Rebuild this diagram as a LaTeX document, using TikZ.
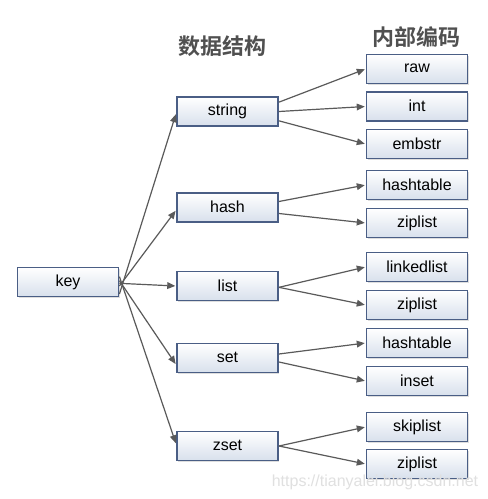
\documentclass[tikz,border=0pt]{standalone}
\usepackage{fontspec}
\setmainfont{Liberation Sans}
\newfontfamily\cjk{Noto Sans CJK SC}[BoldFont={Noto Sans CJK SC Bold}]
\usetikzlibrary{arrows.meta,shadows}
\definecolor{boxborder}{HTML}{4A5E85}
\definecolor{boxbot}{HTML}{D8E0EC}
\definecolor{arrowgray}{HTML}{5A5A5A}
\definecolor{headgray}{HTML}{505050}
\tikzset{
  box/.style={draw=boxborder, line width=1.4pt, top color=white, bottom color=boxbot,
    minimum width=101*0.75pt, minimum height=29*0.75pt, inner sep=0pt,
    font=\fontsize{12pt}{14pt}\selectfont,
    drop shadow={shadow xshift=1pt, shadow yshift=-1pt, fill=black!25, opacity=0.5}},
  link/.style={draw=arrowgray, line width=0.9pt, -{Triangle[length=6pt,width=5pt]}, shorten >=0.6pt},
  head/.style={text=headgray, font=\cjk\bfseries\fontsize{16.5pt}{18pt}\selectfont},
}
\begin{document}
\begin{tikzpicture}[x=0.75pt,y=-0.75pt]
\useasboundingbox (0,0) rectangle (487,499);
\fill[white] (0,0) rectangle (487,499);
% headings
\node[head] (h1) at (222,46) {数据结构};
\node[head] (h2) at (416,37) {内部编码};
% key
\node[box] (key) at (68,282) {\raisebox{1pt}{key}};
% structures
\node[box] (string) at (227.5,111.5) {\raisebox{1pt}{string}};
\node[box] (hash) at (227.5,207.5) {\raisebox{1pt}{hash}};
\node[box] (list) at (227.5,286) {\raisebox{1pt}{list}};
\node[box] (set) at (227.5,358) {\raisebox{1pt}{set}};
\node[box] (zset) at (227.5,446) {\raisebox{1pt}{zset}};
% encodings
\node[box] (raw) at (417,69) {\raisebox{1pt}{raw}};
\node[box] (int) at (417,106.5) {\raisebox{1pt}{int}};
\node[box] (embstr) at (417,144) {\raisebox{1pt}{embstr}};
\node[box] (ht1) at (417,185) {\raisebox{1pt}{hashtable}};
\node[box] (zl1) at (417,223) {\raisebox{1pt}{ziplist}};
\node[box] (ll) at (417,267) {\raisebox{1pt}{linkedlist}};
\node[box] (zl2) at (417,305) {\raisebox{1pt}{ziplist}};
\node[box] (ht2) at (417,343) {\raisebox{1pt}{hashtable}};
\node[box] (inset) at (417,381) {\raisebox{1pt}{inset}};
\node[box] (skip) at (417,427) {\raisebox{1pt}{skiplist}};
\node[box] (zl3) at (417,464) {\raisebox{1pt}{ziplist}};
% key -> structures
\draw[link] ([yshift=-9pt]key.east) -- ([yshift=-1.5pt]string.west);
\draw[link] ([yshift=-3pt]key.east) -- ([yshift=-2pt]hash.west);
\draw[link] ([yshift=-1pt]key.east) -- (list.west);
\draw[link] ([yshift=1pt]key.east) -- ([yshift=-5pt]set.west);
\draw[link] ([yshift=4pt]key.east) -- ([yshift=1.5pt]zset.west);
% structures -> encodings
\draw[link] ([yshift=7pt]string.east) -- (raw.west);
\draw[link] ([yshift=0pt]string.east) -- (int.west);
\draw[link] ([yshift=-7pt]string.east) -- (embstr.west);
\draw[link] ([yshift=4.5pt]hash.east) -- (ht1.west);
\draw[link] ([yshift=-4.5pt]hash.east) -- (zl1.west);
\draw[link] ([yshift=-1pt]list.east) -- (ll.west);
\draw[link] ([yshift=-1pt]list.east) -- (zl2.west);
\draw[link] ([yshift=3pt]set.east) -- (ht2.west);
\draw[link] ([yshift=-3pt]set.east) -- (inset.west);
\draw[link] ([yshift=0pt]zset.east) -- (skip.west);
\draw[link] ([yshift=0pt]zset.east) -- (zl3.west);
% watermark
\node[text=black!12, font=\fontsize{12pt}{14pt}\selectfont] (wm) at (375,482) {https://tianyalei.blog.csdn.net};
\end{tikzpicture}
\end{document}
